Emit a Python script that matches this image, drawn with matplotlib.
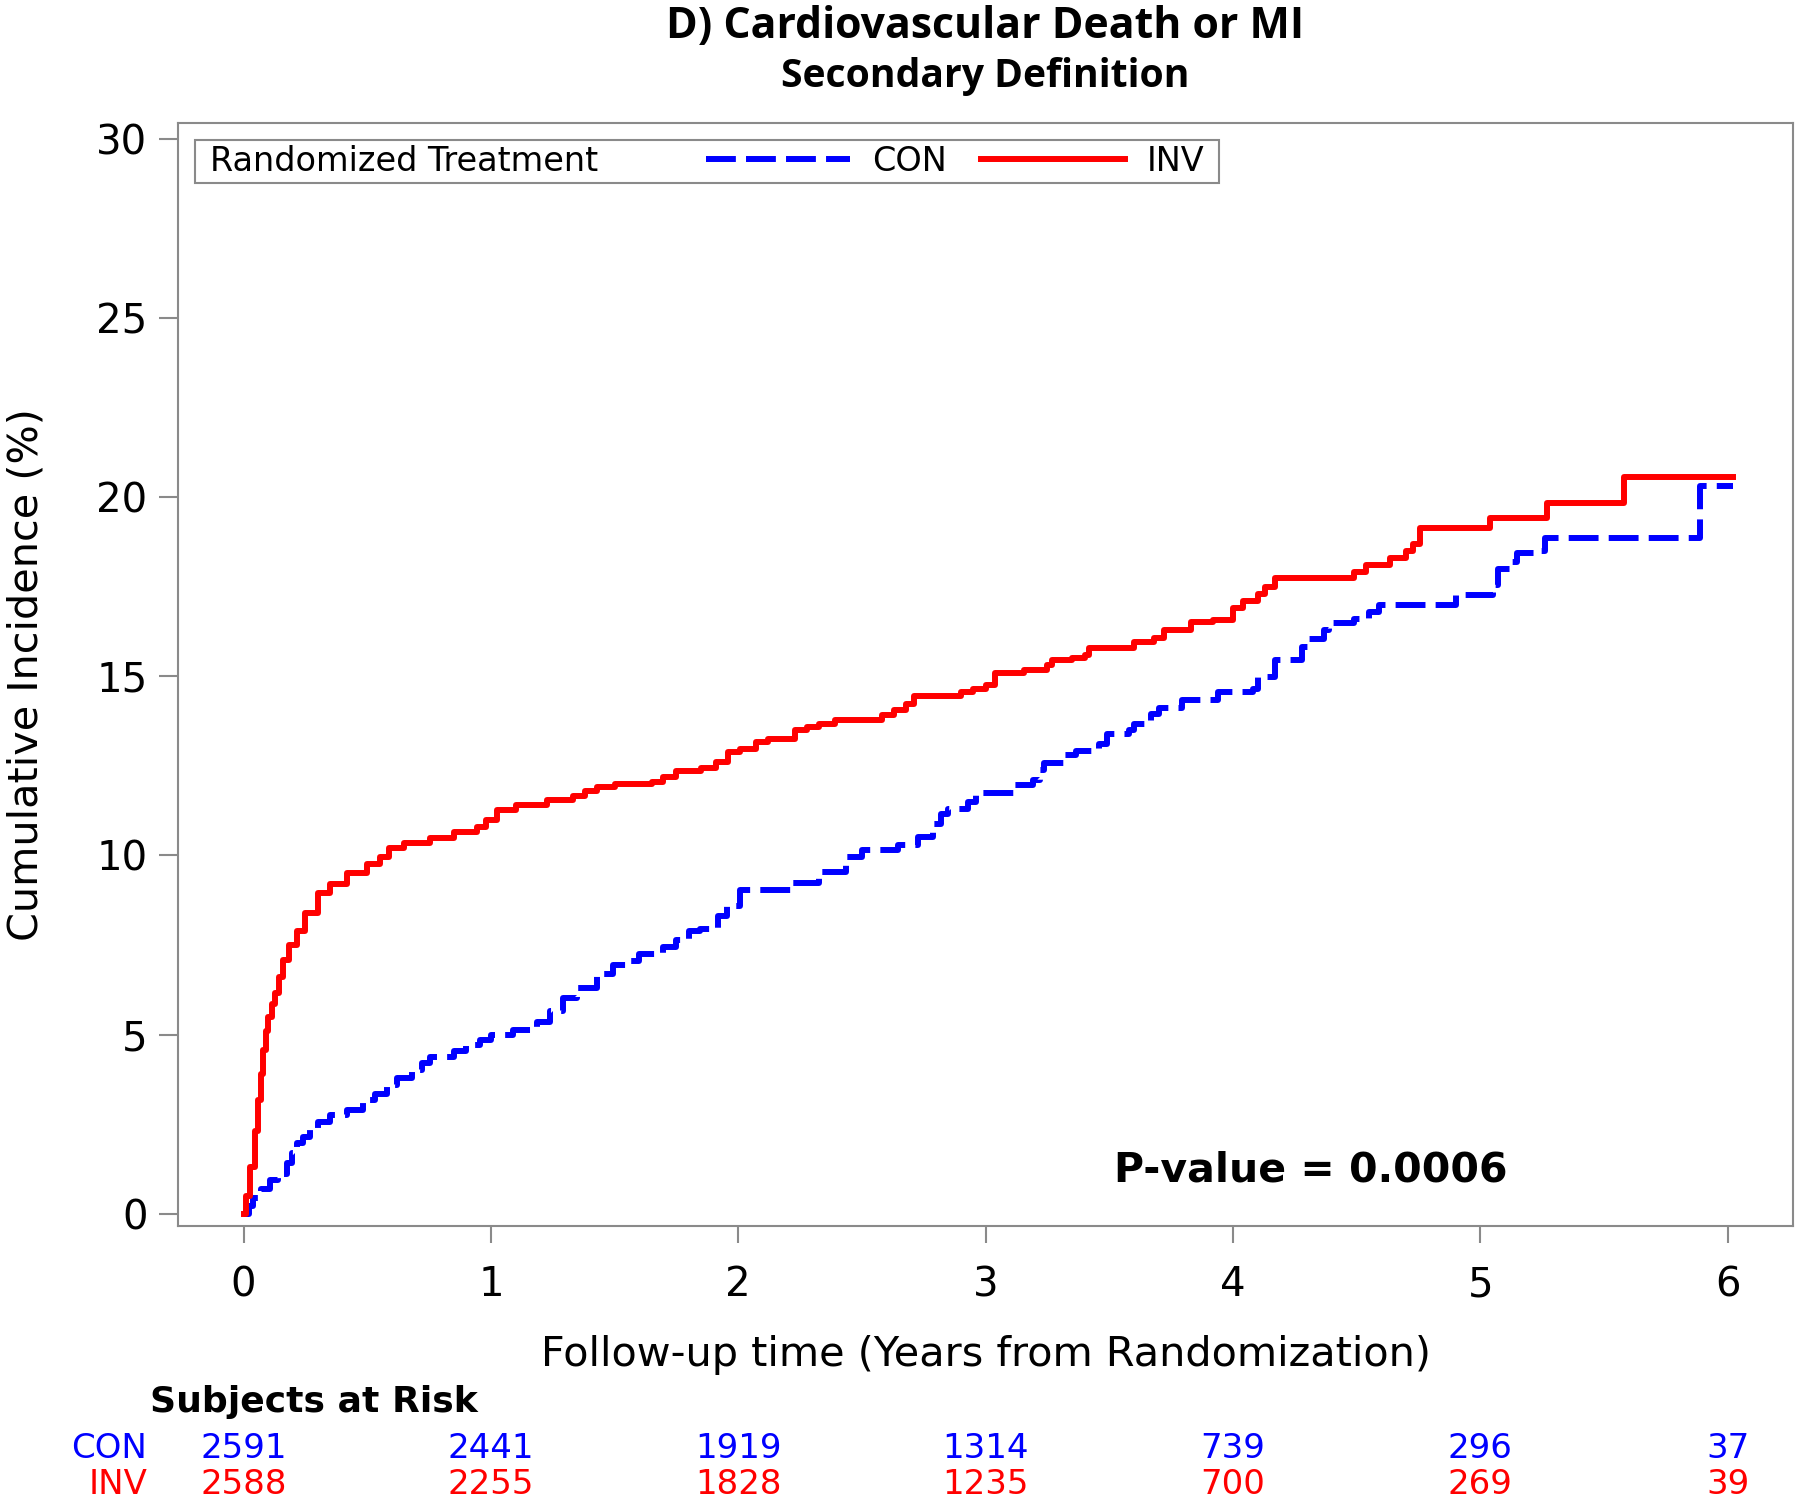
import matplotlib
matplotlib.use("Agg")
import matplotlib.pyplot as plt
import matplotlib.transforms as mtransforms
from matplotlib.offsetbox import HPacker, DrawingArea

# cumulative incidence (%), step points (time in years)
inv_t = [0, 0.01, 0.027, 0.045, 0.059, 0.07, 0.08, 0.09, 0.1, 0.115, 0.128, 0.145, 0.16, 0.185,
         0.216, 0.25, 0.30, 0.35, 0.418, 0.5, 0.55, 0.59, 0.65, 0.755, 0.85, 0.944, 0.98, 1.025,
         1.1, 1.227, 1.33, 1.38, 1.43, 1.5, 1.65, 1.697, 1.75, 1.85, 1.91, 1.958, 2.006, 2.07,
         2.12, 2.23, 2.277, 2.325, 2.39, 2.58, 2.63, 2.68, 2.71, 2.9, 2.95, 3.0, 3.04, 3.156,
         3.25, 3.27, 3.35, 3.4, 3.42, 3.6, 3.68, 3.72, 3.83, 3.92, 4.0, 4.04, 4.1, 4.13, 4.17,
         4.49, 4.54, 4.635, 4.70, 4.73, 4.755, 5.04, 5.27, 5.58, 6.02]
inv_v = [0, 0.5, 1.3, 2.3, 3.17, 3.9, 4.56, 5.1, 5.49, 5.85, 6.15, 6.6, 7.08, 7.5,
         7.9, 8.4, 8.94, 9.2, 9.5, 9.75, 9.95, 10.2, 10.35, 10.5, 10.65, 10.8, 11.0, 11.26,
         11.4, 11.55, 11.65, 11.8, 11.9, 12.0, 12.05, 12.19, 12.35, 12.45, 12.61, 12.89, 12.98, 13.17,
         13.24, 13.5, 13.59, 13.68, 13.77, 13.92, 14.07, 14.24, 14.45, 14.57, 14.66, 14.75, 15.08, 15.19,
         15.31, 15.45, 15.5, 15.59, 15.78, 15.96, 16.06, 16.29, 16.52, 16.57, 16.9, 17.1, 17.3, 17.5, 17.74,
         17.9, 18.1, 18.3, 18.5, 18.7, 19.15, 19.43, 19.83, 20.57, 20.57]

con_t = [0, 0.02, 0.04, 0.07, 0.107, 0.14, 0.176, 0.195, 0.216, 0.24, 0.27, 0.3, 0.35, 0.42,
         0.483, 0.53, 0.58, 0.62, 0.68, 0.72, 0.755, 0.85, 0.9, 0.956, 1.0, 1.09, 1.186, 1.24,
         1.29, 1.35, 1.43, 1.494, 1.55, 1.6, 1.697, 1.75, 1.8, 1.846, 1.92, 1.955, 2.006, 2.213,
         2.325, 2.437, 2.5, 2.645, 2.725, 2.789, 2.82, 2.85, 2.93, 2.96, 3.12, 3.19, 3.22, 3.236,
         3.316, 3.364, 3.46, 3.49, 3.58, 3.6, 3.67, 3.7, 3.795, 3.94, 4.083, 4.1, 4.17, 4.28,
         4.307, 4.37, 4.39, 4.49, 4.55, 4.59, 4.9, 5.05, 5.07, 5.12, 5.15, 5.24, 5.26, 5.89, 6.02]
con_v = [0, 0.2, 0.45, 0.7, 0.93, 1.1, 1.4, 1.7, 1.96, 2.15, 2.33, 2.55, 2.75, 2.9,
         3.17, 3.35, 3.6, 3.8, 4.0, 4.2, 4.37, 4.55, 4.7, 4.84, 5.0, 5.12, 5.34, 5.65,
         6.03, 6.3, 6.7, 6.94, 7.05, 7.25, 7.45, 7.65, 7.9, 7.96, 8.3, 8.6, 9.03, 9.22,
         9.54, 9.96, 10.15, 10.29, 10.52, 10.89, 11.17, 11.31, 11.5, 11.73, 11.96, 12.1, 12.38, 12.57,
         12.8, 12.92, 13.12, 13.4, 13.5, 13.68, 13.96, 14.13, 14.33, 14.57, 14.66, 14.99, 15.45, 15.82,
         16.04, 16.3, 16.5, 16.6, 16.8, 17.0, 17.27, 17.55, 18.0, 18.2, 18.45, 18.5, 18.86, 20.3, 20.3]

# subjects at risk table
risk_years = [0, 1, 2, 3, 4, 5, 6]
con_risk = [2591, 2441, 1919, 1314, 739, 296, 37]
inv_risk = [2588, 2255, 1828, 1235, 700, 269, 39]

x_ticks = [0, 1, 2, 3, 4, 5, 6]
y_ticks = [0, 5, 10, 15, 20, 25, 30]

BLUE = "#0000ff"
RED = "#ff0000"
GRAY = "#8a8a8a"

plt.rcParams["font.family"] = ["DejaVu Sans"]

fig = plt.figure(figsize=(18, 14.99), dpi=100)
ax = fig.add_axes([0.0989, 0.182, 0.8973, 0.736])

l_con, = ax.plot(con_t, con_v, drawstyle="steps-post", color=BLUE, lw=4.3,
                 linestyle=(0, (5.0, 1.7)), label="CON")
l_inv, = ax.plot(inv_t, inv_v, drawstyle="steps-post", color=RED, lw=4.3,
                 label="INV")

ax.set_xlim(-0.265, 6.265)
ax.set_ylim(-0.35, 30.45)
ax.set_xticks(x_ticks)
ax.set_yticks(y_ticks)
ax.tick_params(axis="x", length=12, width=1.5, color=GRAY, labelsize=29, pad=16)
ax.tick_params(axis="y", length=14, width=1.5, color=GRAY, labelsize=29, pad=8)
for sp in ax.spines.values():
    sp.set_color(GRAY)
    sp.set_linewidth(1.5)

ax.set_xlabel("Follow-up time (Years from Randomization)", fontsize=29.8)
ax.set_ylabel("Cumulative Incidence (%)", fontsize=29.8)
ax.xaxis.label.set_va("center")
ax.yaxis.label.set_va("center")
ax.xaxis.set_label_coords(0.5, -0.117)
ax.yaxis.set_label_coords(-0.094, 0.5)

ax.text(3.52, 1.2, "P-value = 0.0006", fontsize=29.5, fontweight="bold", va="center", ha="left")

# legend laid out in one row with its title on the left
leg = ax.legend(handles=[l_con, l_inv], labels=["CON", "INV"], title="Randomized Treatment",
                ncol=2, loc="upper left", bbox_to_anchor=(0.0105, 0.9846), borderaxespad=0,
                fontsize=24.1, title_fontsize=24.1, handlelength=4.3, handletextpad=0.67,
                columnspacing=1.0, borderpad=0.15, fancybox=False, edgecolor=GRAY, framealpha=1)
leg.get_frame().set_linewidth(1.5)
fs = leg._fontsize
box = HPacker(pad=leg.borderpad * fs, sep=0, align="center",
              children=[DrawingArea(7, 1), leg._legend_title_box, DrawingArea(78, 1),
                        leg._legend_handle_box, DrawingArea(7, 1)])
box.set_figure(fig)
box.axes = ax
box.set_offset(leg._findoffset)
leg._legend_box = box

# titles
fig.text(0.5475, 0.9825, "D) Cardiovascular Death or MI", family=["Open Sans", "DejaVu Sans"],
         fontweight="bold", fontsize=30.8, ha="center", va="center")
fig.text(0.5475, 0.9488, "Secondary Definition", family=["Open Sans", "DejaVu Sans"],
         fontweight="bold", fontsize=28.2, ha="center", va="center")

# subjects at risk
fig.text(0.0833, 0.0645, "Subjects at Risk", fontsize=26, fontweight="bold", ha="left", va="center")
row_tr = mtransforms.blended_transform_factory(ax.transData, fig.transFigure)
fig.text(0.0817, 0.034, "CON", color=BLUE, fontsize=24.5, ha="right", va="center")
fig.text(0.0817, 0.0095, "INV", color=RED, fontsize=24.5, ha="right", va="center")
for yr, c, i in zip(risk_years, con_risk, inv_risk):
    ax.text(yr, 0.034, str(c), transform=row_tr, color=BLUE, fontsize=24.5, ha="center", va="center")
    ax.text(yr, 0.0095, str(i), transform=row_tr, color=RED, fontsize=24.5, ha="center", va="center")

fig.savefig("out.png", dpi=100)
